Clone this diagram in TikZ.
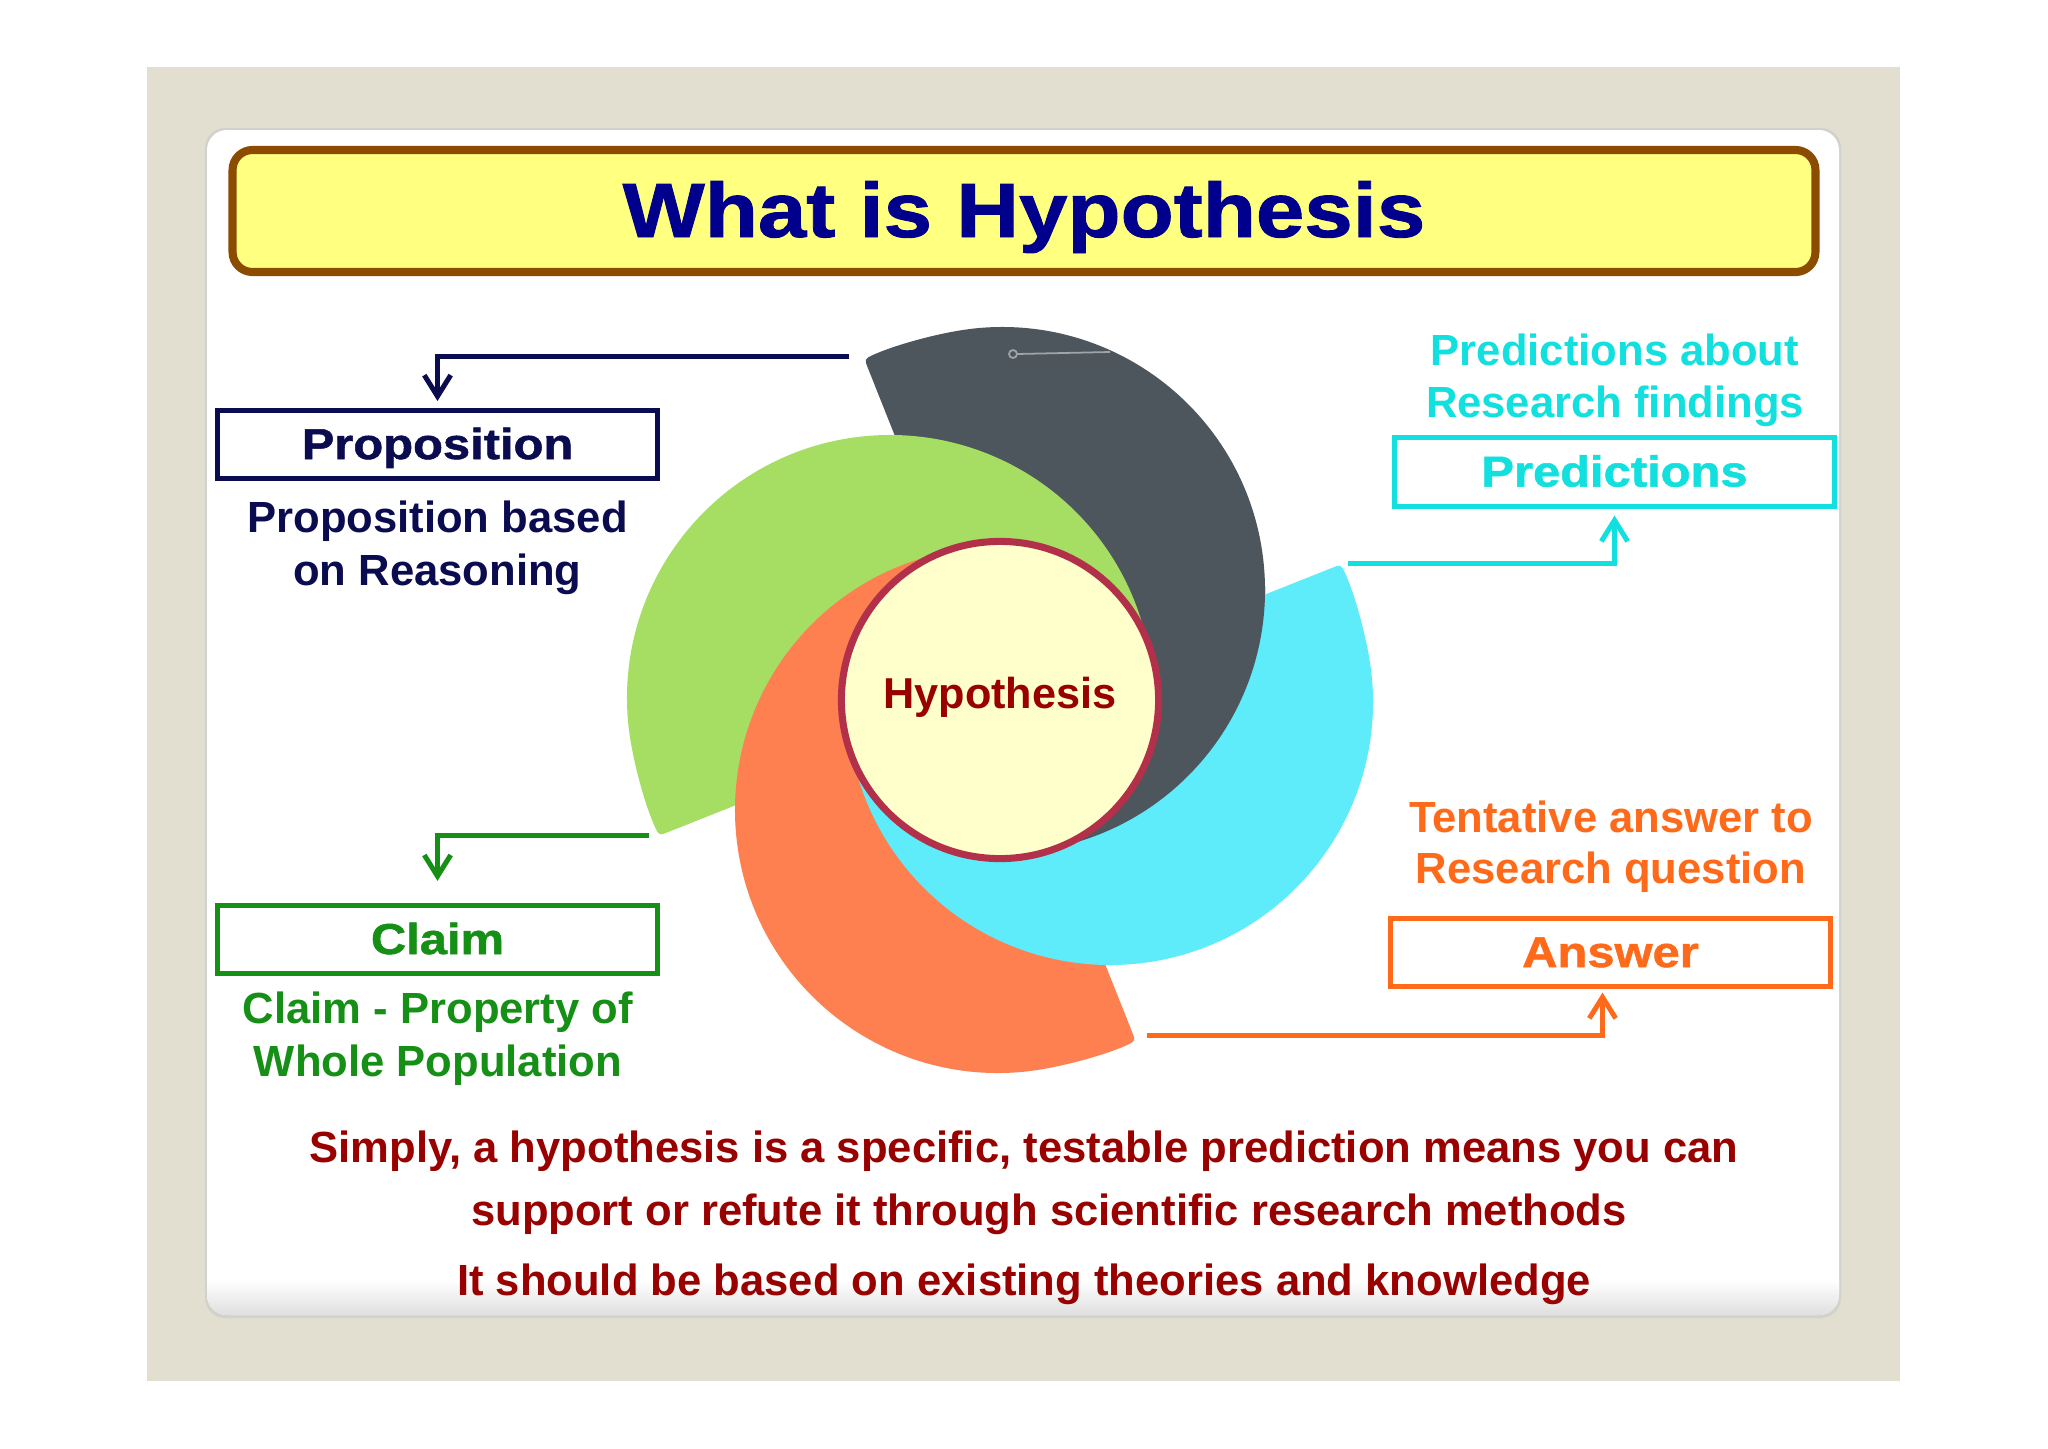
\documentclass[tikz,border=0pt]{standalone}
\usepackage{fontspec}
\setmainfont{Liberation Sans}
\newfontfamily\blk{Liberation Sans Bold}[FakeStretch=1.13,FakeBold=1.2]
\usetikzlibrary{arrows.meta}
\definecolor{bgbeige}{HTML}{E2DFD1}
\definecolor{titleyellow}{HTML}{FFFF80}
\definecolor{titlebrown}{HTML}{8C4C00}
\definecolor{titlenavy}{HTML}{00008C}
\definecolor{navy}{HTML}{0B0B50}
\definecolor{claimgreen}{HTML}{168F16}
\definecolor{predcyan}{HTML}{12E0DE}
\definecolor{ansorange}{HTML}{FF6A1A}
\definecolor{darkred}{HTML}{990000}
\definecolor{bladegray}{HTML}{4D565C}
\definecolor{bladegreen}{HTML}{A6DE64}
\definecolor{bladecyan}{HTML}{5EEBFA}
\definecolor{bladeorange}{HTML}{FE7F50}
\definecolor{circfill}{HTML}{FFFFCC}
\definecolor{circborder}{HTML}{B3304A}
\definecolor{detailgray}{HTML}{A0A5AA}
\definecolor{cardedge}{HTML}{D2D2CC}
\begin{document}
\begin{tikzpicture}[x=0.01cm,y=-0.01cm,
  lbl/.style={inner sep=0pt, anchor=base, font=\fontsize{12.4pt}{15pt}\selectfont\bfseries},
  boxlbl/.style={draw, line width=1.42pt, minimum width=4.40cm, minimum height=0.68cm, inner sep=0pt,
    text height=0.36cm, text depth=0.07cm, font=\blk\fontsize{12.3pt}{14pt}\selectfont},
  conn/.style={line width=1.42pt, -{Straight Barb[length=6pt,width=7.5pt]}, shorten >=2pt},
  blade/.style={insert path={(-331.7,-132.0) .. controls (-341.0,-135.7) .. (-345.2,-126.6)
     .. controls (-353.7,-108.5) and (-368.7,-58.8) .. (-372.0,-20.9)
     arc[start angle=185, end angle=0, radius=263] -- (0,0) -- cycle}}
]
\useasboundingbox (0,0) rectangle (2048,1448);
\fill[white] (0,0) rectangle (2048,1448);
\fill[bgbeige] (147,67) rectangle (1900,1381);
% card
\fill[cardedge, rounded corners=0.2cm] (205,128) rectangle (1841,1318);
\fill[white, rounded corners=0.2cm] (207,130) rectangle (1839,1315);
\begin{scope}
  \clip[rounded corners=0.2cm] (207,130) rectangle (1839,1315);
  \shade[top color=white, bottom color=black!13] (207,1280) rectangle (1839,1316);
\end{scope}
% title
\node[draw=titlebrown, line width=2.3pt, rounded corners=0.2cm, fill=titleyellow,
  minimum width=15.82cm, minimum height=1.22cm, inner sep=0pt,
  text height=0.55cm, text depth=0.03cm, text=titlenavy,
  font=\blk\fontsize{21.9pt}{24pt}\selectfont] (title) at (1024,211) {What is Hypothesis};
% swirl
\begin{scope}[shift={(1000,700)}, y=0.01cm]
  \fill[bladegray, rotate=-90, blade];
  \fill[bladegreen, blade];
  \fill[bladeorange, rotate=90, blade];
  \fill[bladecyan, rotate=180, blade];
  \begin{scope}
    \clip (0,0) -- (-66:520) arc[start angle=-66, end angle=24, radius=520] -- cycle;
    \fill[bladegray, rotate=-90, blade];
  \end{scope}
  \node[circle, draw=circborder, line width=2pt, fill=circfill, minimum size=3.17cm, inner sep=0pt,
    text height=0.26cm, text depth=0.10cm, text=darkred,
    font=\fontsize{12.3pt}{14pt}\selectfont\bfseries] (hyp) at (0,0) {Hypothesis};
\end{scope}
\draw[detailgray, line width=0.5pt] (1017,354) -- (1110,352);
\draw[detailgray, line width=0.5pt] (1013,354) circle[radius=4];
% proposition
\coordinate (pfrom) at (849,356);
\node[boxlbl, draw=navy, text=navy] (prop) at (437.5,444.5) {Proposition};
\draw[conn, navy] (pfrom) -| (prop.north);
\node[lbl, text=navy] (propa) at (437.5,532) {Proposition based};
\node[lbl, text=navy] (propb) at (437.5,585) {on Reasoning};
% claim
\coordinate (cfrom) at (649,835);
\node[boxlbl, draw=claimgreen, text=claimgreen] (claim) at (437.5,939.5) {Claim};
\draw[conn, claimgreen, shorten >=6.3pt] (cfrom) -| (claim.north);
\node[lbl, text=claimgreen] (claima) at (438,1023) {Claim - Property of};
\node[lbl, text=claimgreen] (claimb) at (438,1076) {Whole Population};
% predictions
\node[lbl, text=predcyan] (preda) at (1615,365) {Predictions about};
\node[lbl, text=predcyan] (predb) at (1615,417) {Research findings};
\node[boxlbl, draw=predcyan, text=predcyan] (pred) at (1614.5,472) {Predictions};
\coordinate (prfrom) at (1348,563);
\draw[conn, predcyan] (prfrom) -| (pred.south);
% answer
\node[lbl, text=ansorange] (ansa) at (1611,832) {Tentative answer to};
\node[lbl, text=ansorange] (ansb) at (1611,883) {Research question};
\node[boxlbl, draw=ansorange, text=ansorange] (ans) at (1610.5,952.5) {Answer};
\coordinate (afrom) at (1147,1035);
\draw[conn, ansorange, shorten >=1pt] (afrom) -| ([xshift=-0.08cm]ans.south);
% bottom text
\node[lbl, text=darkred] (b1) at (1024,1162) {Simply, a hypothesis is a specific, testable prediction means you can};
\node[lbl, text=darkred] (b2) at (1049,1225) {support or refute it through scientific research methods};
\node[lbl, text=darkred] (b3) at (1024,1295) {It should be based on existing theories and knowledge};
\end{tikzpicture}
\end{document}
